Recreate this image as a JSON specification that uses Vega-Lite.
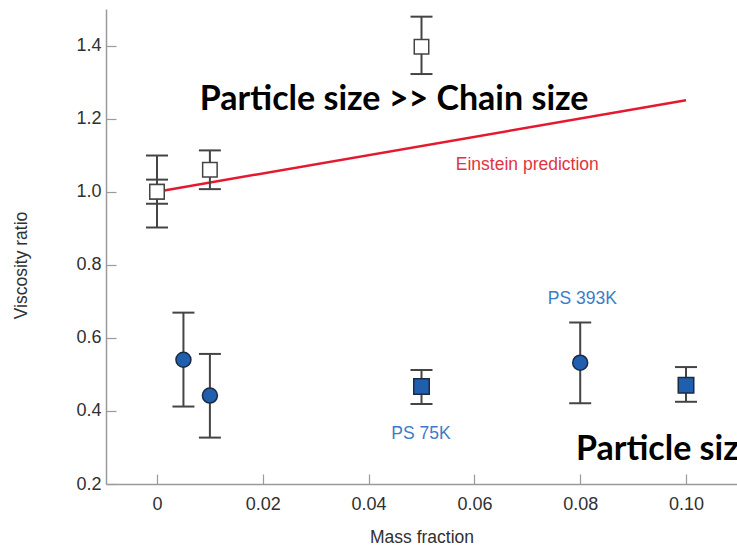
{
  "$schema": "https://vega.github.io/schema/vega-lite/v6.json",
  "autosize": {"type": "none"},
  "width": 631,
  "height": 475,
  "padding": {"left": 106, "top": 9, "right": 0, "bottom": 63},
  "background": "white",
  "config": {
    "view": {"stroke": null},
    "font": "Liberation Sans",
    "axis": {
      "domainColor": "#9a9a9a",
      "domainWidth": 1.5,
      "tickColor": "#9a9a9a",
      "tickWidth": 1.2,
      "tickSize": -10,
      "grid": false,
      "labelFont": "Liberation Sans",
      "labelFontSize": 18,
      "labelColor": "#303030",
      "titleFont": "Liberation Sans",
      "titleFontSize": 17.5,
      "titleFontWeight": "normal",
      "titleColor": "#303030"
    }
  },
  "datasets": {
    "points": [
      {"series": "open", "x": 0, "y": 1.0, "lo": 0.902, "hi": 1.099},
      {"series": "open", "x": 0, "y": 1.0, "lo": 0.967, "hi": 1.033},
      {"series": "open", "x": 0.01, "y": 1.06, "lo": 1.007, "hi": 1.113},
      {"series": "open", "x": 0.05, "y": 1.397, "lo": 1.322, "hi": 1.479},
      {"series": "circle", "x": 0.005, "y": 0.54, "lo": 0.412, "hi": 0.669},
      {"series": "circle", "x": 0.01, "y": 0.442, "lo": 0.327, "hi": 0.556},
      {"series": "circle", "x": 0.08, "y": 0.532, "lo": 0.421, "hi": 0.642},
      {"series": "square", "x": 0.05, "y": 0.467, "lo": 0.419, "hi": 0.512},
      {"series": "square", "x": 0.1, "y": 0.47, "lo": 0.425, "hi": 0.52}
    ],
    "einstein": [
      {"x": 0, "y": 1.0},
      {"x": 0.1, "y": 1.25}
    ],
    "smalllabels": [
      {"text": "Einstein prediction", "x": 0.07, "y": 1.074, "kind": "red"},
      {"text": "PS 393K", "x": 0.0804, "y": 0.707, "kind": "blue"},
      {"text": "PS 75K", "x": 0.0499, "y": 0.337, "kind": "blue"}
    ],
    "biglabels": [
      {"text": "Particle size >> Chain size", "x": 0.0081, "y": 1.252},
      {"text": "Particle size << Chain size", "x": 0.0792, "y": 0.293}
    ]
  },
  "encoding": {
    "x": {
      "field": "x",
      "type": "quantitative",
      "scale": {"domain": [-0.00964, 0.10964], "nice": false, "zero": false},
      "axis": {
        "title": "Mass fraction",
        "values": [0, 0.02, 0.04, 0.06, 0.08, 0.1],
        "labelExpr": "datum.value == 0 ? '0' : format(datum.value, '.2f')",
        "labelPadding": 21,
        "titlePadding": 15
      }
    },
    "y": {
      "field": "y",
      "type": "quantitative",
      "scale": {"domain": [0.2, 1.5], "nice": false, "zero": false},
      "axis": {
        "title": "Viscosity ratio",
        "values": [0.2, 0.4, 0.6, 0.8, 1.0, 1.2, 1.4],
        "format": ".1f",
        "labelPadding": 15,
        "titleAngle": -90,
        "titleX": -85,
        "titleY": 256,
        "titleAlign": "center",
        "titleBaseline": "middle"
      }
    }
  },
  "layer": [
    {
      "mark": {"type": "rule", "color": "#9a9a9a", "strokeWidth": 1.5},
      "encoding": {"y": {"datum": 1.5}, "x": null}
    },
    {
      "data": {"name": "einstein"},
      "mark": {"type": "line", "color": "#e4192f", "strokeWidth": 2.5}
    },
    {
      "data": {"name": "points"},
      "mark": {"type": "rule", "color": "#444444", "strokeWidth": 2},
      "encoding": {"y": {"field": "lo", "type": "quantitative"}, "y2": {"field": "hi"}}
    },
    {
      "data": {"name": "points"},
      "mark": {"type": "tick", "orient": "horizontal", "color": "#444444", "thickness": 2, "size": 22, "opacity": 1},
      "encoding": {"y": {"field": "lo", "type": "quantitative"}}
    },
    {
      "data": {"name": "points"},
      "mark": {"type": "tick", "orient": "horizontal", "color": "#444444", "thickness": 2, "size": 22, "opacity": 1},
      "encoding": {"y": {"field": "hi", "type": "quantitative"}}
    },
    {
      "data": {"name": "points"},
      "mark": {"type": "point", "filled": true, "opacity": 1, "strokeWidth": 1.5},
      "encoding": {
        "shape": {"field": "series", "type": "nominal", "scale": {"domain": ["open", "circle", "square"], "range": ["square", "circle", "square"]}, "legend": null},
        "fill": {"field": "series", "type": "nominal", "scale": {"domain": ["open", "circle", "square"], "range": ["#ffffff", "#1f5fae", "#1f5fae"]}, "legend": null},
        "stroke": {"field": "series", "type": "nominal", "scale": {"domain": ["open", "circle", "square"], "range": ["#444444", "#1b2b45", "#1b2b45"]}, "legend": null},
        "size": {"field": "series", "type": "nominal", "scale": {"domain": ["open", "circle", "square"], "range": [210, 240, 210]}, "legend": null}
      }
    },
    {
      "data": {"name": "smalllabels"},
      "mark": {"type": "text", "font": "Liberation Sans", "fontSize": 17.5, "align": "center", "baseline": "middle"},
      "encoding": {
        "text": {"field": "text"},
        "color": {"field": "kind", "type": "nominal", "scale": {"domain": ["red", "blue"], "range": ["#e2343f", "#3c7cc6"]}, "legend": null}
      }
    },
    {
      "data": {"name": "biglabels"},
      "mark": {"type": "text", "font": "Lato", "fontWeight": "bold", "fontSize": 34, "align": "left", "baseline": "middle", "color": "#000000", "clip": true},
      "encoding": {"text": {"field": "text"}}
    }
  ]
}
